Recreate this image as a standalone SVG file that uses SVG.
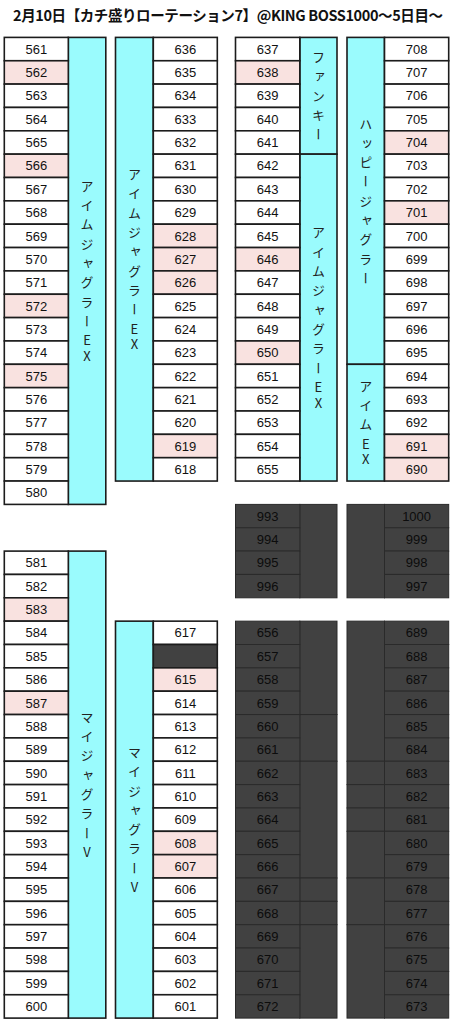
<svg xmlns="http://www.w3.org/2000/svg" width="456" height="1024" viewBox="0 0 456 1024">
<style>
rect{stroke:#1c1c1c;stroke-width:1.6}
.w{fill:#ffffff}
.p{fill:#f9e2e0}
.c{fill:#9afbfd}
.k{fill:#414141}
.d rect{fill:#414141;stroke:#2a2a2a;stroke-width:1}
text{font-family:"Liberation Sans",Arial,sans-serif;font-size:13px;text-anchor:middle;fill:#111}
.d text{fill:#0c0c0c}
.v{font-family:"Noto Sans CJK JP",sans-serif;font-size:13px;writing-mode:vertical-rl;text-orientation:upright;glyph-orientation-vertical:0;fill:#222}
.ttl{font-family:"Noto Sans CJK JP",sans-serif;font-size:14.5px;font-weight:bold;text-anchor:start;fill:#111}
</style>
<text class="ttl" x="13" y="20.5" textLength="430">2月10日【カチ盛りローテーション7】@KING BOSS1000〜5日目〜</text>

<g id="blockA">
<g id="sideA"><rect class="c" x="68.3" y="37.4" width="37.5" height="467"/>
<text class="v" x="87.05"><tspan y="185.85">ア</tspan><tspan y="205.15">イ</tspan><tspan y="224.45">ム</tspan><tspan y="243.75">ジ</tspan><tspan y="263.05">ャ</tspan><tspan y="282.35">グ</tspan><tspan y="301.65">ラ</tspan><tspan y="320.95">ー</tspan><tspan y="340.45">E</tspan><tspan y="355.95">X</tspan></text></g>
<g id="m561"><rect class="w" x="4.3" y="37.4" width="64" height="23.35"/><text x="36.3" y="53.7">561</text></g>
<g id="m562"><rect class="p" x="4.3" y="60.75" width="64" height="23.35"/><text x="36.3" y="77.05">562</text></g>
<g id="m563"><rect class="w" x="4.3" y="84.1" width="64" height="23.35"/><text x="36.3" y="100.4">563</text></g>
<g id="m564"><rect class="w" x="4.3" y="107.45" width="64" height="23.35"/><text x="36.3" y="123.75">564</text></g>
<g id="m565"><rect class="w" x="4.3" y="130.8" width="64" height="23.35"/><text x="36.3" y="147.1">565</text></g>
<g id="m566"><rect class="p" x="4.3" y="154.15" width="64" height="23.35"/><text x="36.3" y="170.45">566</text></g>
<g id="m567"><rect class="w" x="4.3" y="177.5" width="64" height="23.35"/><text x="36.3" y="193.8">567</text></g>
<g id="m568"><rect class="w" x="4.3" y="200.85" width="64" height="23.35"/><text x="36.3" y="217.15">568</text></g>
<g id="m569"><rect class="w" x="4.3" y="224.2" width="64" height="23.35"/><text x="36.3" y="240.5">569</text></g>
<g id="m570"><rect class="w" x="4.3" y="247.55" width="64" height="23.35"/><text x="36.3" y="263.85">570</text></g>
<g id="m571"><rect class="w" x="4.3" y="270.9" width="64" height="23.35"/><text x="36.3" y="287.2">571</text></g>
<g id="m572"><rect class="p" x="4.3" y="294.25" width="64" height="23.35"/><text x="36.3" y="310.55">572</text></g>
<g id="m573"><rect class="w" x="4.3" y="317.6" width="64" height="23.35"/><text x="36.3" y="333.9">573</text></g>
<g id="m574"><rect class="w" x="4.3" y="340.95" width="64" height="23.35"/><text x="36.3" y="357.25">574</text></g>
<g id="m575"><rect class="p" x="4.3" y="364.3" width="64" height="23.35"/><text x="36.3" y="380.6">575</text></g>
<g id="m576"><rect class="w" x="4.3" y="387.65" width="64" height="23.35"/><text x="36.3" y="403.95">576</text></g>
<g id="m577"><rect class="w" x="4.3" y="411" width="64" height="23.35"/><text x="36.3" y="427.3">577</text></g>
<g id="m578"><rect class="w" x="4.3" y="434.35" width="64" height="23.35"/><text x="36.3" y="450.65">578</text></g>
<g id="m579"><rect class="w" x="4.3" y="457.7" width="64" height="23.35"/><text x="36.3" y="474">579</text></g>
<g id="m580"><rect class="w" x="4.3" y="481.05" width="64" height="23.35"/><text x="36.3" y="497.35">580</text></g>
</g>

<g id="blockB">
<g id="sideB"><rect class="c" x="115.5" y="37.4" width="37.8" height="443.65"/>
<text class="v" x="134.4"><tspan y="174.15">ア</tspan><tspan y="193.45">イ</tspan><tspan y="212.75">ム</tspan><tspan y="232.05">ジ</tspan><tspan y="251.35">ャ</tspan><tspan y="270.65">グ</tspan><tspan y="289.95">ラ</tspan><tspan y="309.25">ー</tspan><tspan y="328.75">E</tspan><tspan y="344.25">X</tspan></text></g>
<g id="m636"><rect class="w" x="153.3" y="37.4" width="64" height="23.35"/><text x="185.3" y="53.7">636</text></g>
<g id="m635"><rect class="w" x="153.3" y="60.75" width="64" height="23.35"/><text x="185.3" y="77.05">635</text></g>
<g id="m634"><rect class="w" x="153.3" y="84.1" width="64" height="23.35"/><text x="185.3" y="100.4">634</text></g>
<g id="m633"><rect class="w" x="153.3" y="107.45" width="64" height="23.35"/><text x="185.3" y="123.75">633</text></g>
<g id="m632"><rect class="w" x="153.3" y="130.8" width="64" height="23.35"/><text x="185.3" y="147.1">632</text></g>
<g id="m631"><rect class="w" x="153.3" y="154.15" width="64" height="23.35"/><text x="185.3" y="170.45">631</text></g>
<g id="m630"><rect class="w" x="153.3" y="177.5" width="64" height="23.35"/><text x="185.3" y="193.8">630</text></g>
<g id="m629"><rect class="w" x="153.3" y="200.85" width="64" height="23.35"/><text x="185.3" y="217.15">629</text></g>
<g id="m628"><rect class="p" x="153.3" y="224.2" width="64" height="23.35"/><text x="185.3" y="240.5">628</text></g>
<g id="m627"><rect class="p" x="153.3" y="247.55" width="64" height="23.35"/><text x="185.3" y="263.85">627</text></g>
<g id="m626"><rect class="p" x="153.3" y="270.9" width="64" height="23.35"/><text x="185.3" y="287.2">626</text></g>
<g id="m625"><rect class="w" x="153.3" y="294.25" width="64" height="23.35"/><text x="185.3" y="310.55">625</text></g>
<g id="m624"><rect class="w" x="153.3" y="317.6" width="64" height="23.35"/><text x="185.3" y="333.9">624</text></g>
<g id="m623"><rect class="w" x="153.3" y="340.95" width="64" height="23.35"/><text x="185.3" y="357.25">623</text></g>
<g id="m622"><rect class="w" x="153.3" y="364.3" width="64" height="23.35"/><text x="185.3" y="380.6">622</text></g>
<g id="m621"><rect class="w" x="153.3" y="387.65" width="64" height="23.35"/><text x="185.3" y="403.95">621</text></g>
<g id="m620"><rect class="w" x="153.3" y="411" width="64" height="23.35"/><text x="185.3" y="427.3">620</text></g>
<g id="m619"><rect class="p" x="153.3" y="434.35" width="64" height="23.35"/><text x="185.3" y="450.65">619</text></g>
<g id="m618"><rect class="w" x="153.3" y="457.7" width="64" height="23.35"/><text x="185.3" y="474">618</text></g>
</g>

<g id="blockC">
<g id="sideC1"><rect class="c" x="299.8" y="37.4" width="37.2" height="116.75"/>
<text class="v" x="318.4"><tspan y="57.18">フ</tspan><tspan y="76.48">ァ</tspan><tspan y="95.78">ン</tspan><tspan y="115.08">キ</tspan><tspan y="134.38">ー</tspan></text></g>
<g id="sideC2"><rect class="c" x="299.8" y="154.15" width="37.2" height="326.9"/>
<text class="v" x="318.4"><tspan y="232.55">ア</tspan><tspan y="251.85">イ</tspan><tspan y="271.15">ム</tspan><tspan y="290.45">ジ</tspan><tspan y="309.75">ャ</tspan><tspan y="329.05">グ</tspan><tspan y="348.35">ラ</tspan><tspan y="367.65">ー</tspan><tspan y="387.15">E</tspan><tspan y="402.65">X</tspan></text></g>
<g id="m637"><rect class="w" x="235.5" y="37.4" width="64.3" height="23.35"/><text x="267.65" y="53.7">637</text></g>
<g id="m638"><rect class="p" x="235.5" y="60.75" width="64.3" height="23.35"/><text x="267.65" y="77.05">638</text></g>
<g id="m639"><rect class="w" x="235.5" y="84.1" width="64.3" height="23.35"/><text x="267.65" y="100.4">639</text></g>
<g id="m640"><rect class="w" x="235.5" y="107.45" width="64.3" height="23.35"/><text x="267.65" y="123.75">640</text></g>
<g id="m641"><rect class="w" x="235.5" y="130.8" width="64.3" height="23.35"/><text x="267.65" y="147.1">641</text></g>
<g id="m642"><rect class="w" x="235.5" y="154.15" width="64.3" height="23.35"/><text x="267.65" y="170.45">642</text></g>
<g id="m643"><rect class="w" x="235.5" y="177.5" width="64.3" height="23.35"/><text x="267.65" y="193.8">643</text></g>
<g id="m644"><rect class="w" x="235.5" y="200.85" width="64.3" height="23.35"/><text x="267.65" y="217.15">644</text></g>
<g id="m645"><rect class="w" x="235.5" y="224.2" width="64.3" height="23.35"/><text x="267.65" y="240.5">645</text></g>
<g id="m646"><rect class="p" x="235.5" y="247.55" width="64.3" height="23.35"/><text x="267.65" y="263.85">646</text></g>
<g id="m647"><rect class="w" x="235.5" y="270.9" width="64.3" height="23.35"/><text x="267.65" y="287.2">647</text></g>
<g id="m648"><rect class="w" x="235.5" y="294.25" width="64.3" height="23.35"/><text x="267.65" y="310.55">648</text></g>
<g id="m649"><rect class="w" x="235.5" y="317.6" width="64.3" height="23.35"/><text x="267.65" y="333.9">649</text></g>
<g id="m650"><rect class="p" x="235.5" y="340.95" width="64.3" height="23.35"/><text x="267.65" y="357.25">650</text></g>
<g id="m651"><rect class="w" x="235.5" y="364.3" width="64.3" height="23.35"/><text x="267.65" y="380.6">651</text></g>
<g id="m652"><rect class="w" x="235.5" y="387.65" width="64.3" height="23.35"/><text x="267.65" y="403.95">652</text></g>
<g id="m653"><rect class="w" x="235.5" y="411" width="64.3" height="23.35"/><text x="267.65" y="427.3">653</text></g>
<g id="m654"><rect class="w" x="235.5" y="434.35" width="64.3" height="23.35"/><text x="267.65" y="450.65">654</text></g>
<g id="m655"><rect class="w" x="235.5" y="457.7" width="64.3" height="23.35"/><text x="267.65" y="474">655</text></g>
</g>

<g id="blockD">
<g id="sideD1"><rect class="c" x="347" y="37.4" width="37.5" height="326.9"/>
<text class="v" x="365.75"><tspan y="123.65">ハ</tspan><tspan y="142.95">ッ</tspan><tspan y="162.25">ピ</tspan><tspan y="181.55">ー</tspan><tspan y="200.85">ジ</tspan><tspan y="220.15">ャ</tspan><tspan y="239.45">グ</tspan><tspan y="258.75">ラ</tspan><tspan y="278.05">ー</tspan></text></g>
<g id="sideD2"><rect class="c" x="347" y="364.3" width="37.5" height="116.75"/>
<text class="v" x="365.75"><tspan y="385.88">ア</tspan><tspan y="405.18">イ</tspan><tspan y="424.48">ム</tspan><tspan y="443.98">E</tspan><tspan y="459.48">X</tspan></text></g>
<g id="m708"><rect class="w" x="384.5" y="37.4" width="64.2" height="23.35"/><text x="416.6" y="53.7">708</text></g>
<g id="m707"><rect class="w" x="384.5" y="60.75" width="64.2" height="23.35"/><text x="416.6" y="77.05">707</text></g>
<g id="m706"><rect class="w" x="384.5" y="84.1" width="64.2" height="23.35"/><text x="416.6" y="100.4">706</text></g>
<g id="m705"><rect class="w" x="384.5" y="107.45" width="64.2" height="23.35"/><text x="416.6" y="123.75">705</text></g>
<g id="m704"><rect class="p" x="384.5" y="130.8" width="64.2" height="23.35"/><text x="416.6" y="147.1">704</text></g>
<g id="m703"><rect class="w" x="384.5" y="154.15" width="64.2" height="23.35"/><text x="416.6" y="170.45">703</text></g>
<g id="m702"><rect class="w" x="384.5" y="177.5" width="64.2" height="23.35"/><text x="416.6" y="193.8">702</text></g>
<g id="m701"><rect class="p" x="384.5" y="200.85" width="64.2" height="23.35"/><text x="416.6" y="217.15">701</text></g>
<g id="m700"><rect class="w" x="384.5" y="224.2" width="64.2" height="23.35"/><text x="416.6" y="240.5">700</text></g>
<g id="m699"><rect class="w" x="384.5" y="247.55" width="64.2" height="23.35"/><text x="416.6" y="263.85">699</text></g>
<g id="m698"><rect class="w" x="384.5" y="270.9" width="64.2" height="23.35"/><text x="416.6" y="287.2">698</text></g>
<g id="m697"><rect class="w" x="384.5" y="294.25" width="64.2" height="23.35"/><text x="416.6" y="310.55">697</text></g>
<g id="m696"><rect class="w" x="384.5" y="317.6" width="64.2" height="23.35"/><text x="416.6" y="333.9">696</text></g>
<g id="m695"><rect class="w" x="384.5" y="340.95" width="64.2" height="23.35"/><text x="416.6" y="357.25">695</text></g>
<g id="m694"><rect class="w" x="384.5" y="364.3" width="64.2" height="23.35"/><text x="416.6" y="380.6">694</text></g>
<g id="m693"><rect class="w" x="384.5" y="387.65" width="64.2" height="23.35"/><text x="416.6" y="403.95">693</text></g>
<g id="m692"><rect class="w" x="384.5" y="411" width="64.2" height="23.35"/><text x="416.6" y="427.3">692</text></g>
<g id="m691"><rect class="p" x="384.5" y="434.35" width="64.2" height="23.35"/><text x="416.6" y="450.65">691</text></g>
<g id="m690"><rect class="p" x="384.5" y="457.7" width="64.2" height="23.35"/><text x="416.6" y="474">690</text></g>
</g>

<g id="darkC1" class="d">
<rect x="299.8" y="504.4" width="37.2" height="93.4"/>
<g id="m993"><rect x="235.5" y="504.4" width="64.3" height="23.35"/><text x="267.65" y="520.7">993</text></g>
<g id="m994"><rect x="235.5" y="527.75" width="64.3" height="23.35"/><text x="267.65" y="544.05">994</text></g>
<g id="m995"><rect x="235.5" y="551.1" width="64.3" height="23.35"/><text x="267.65" y="567.4">995</text></g>
<g id="m996"><rect x="235.5" y="574.45" width="64.3" height="23.35"/><text x="267.65" y="590.75">996</text></g>
</g>
<g id="darkD1" class="d">
<rect x="347" y="504.4" width="37.5" height="93.4"/>
<g id="m1000"><rect x="384.5" y="504.4" width="64.2" height="23.35"/><text x="416.6" y="520.7">1000</text></g>
<g id="m999"><rect x="384.5" y="527.75" width="64.2" height="23.35"/><text x="416.6" y="544.05">999</text></g>
<g id="m998"><rect x="384.5" y="551.1" width="64.2" height="23.35"/><text x="416.6" y="567.4">998</text></g>
<g id="m997"><rect x="384.5" y="574.45" width="64.2" height="23.35"/><text x="416.6" y="590.75">997</text></g>
</g>

<g id="blockA2">
<g id="sideA2"><rect class="c" x="68.3" y="551.1" width="37.5" height="467"/>
<text class="v" x="87.05"><tspan y="716.95">マ</tspan><tspan y="736.25">イ</tspan><tspan y="755.55">ジ</tspan><tspan y="774.85">ャ</tspan><tspan y="794.15">グ</tspan><tspan y="813.45">ラ</tspan><tspan y="832.75">ー</tspan><tspan y="852.25">V</tspan></text></g>
<g id="m581"><rect class="w" x="4.3" y="551.1" width="64" height="23.35"/><text x="36.3" y="567.4">581</text></g>
<g id="m582"><rect class="w" x="4.3" y="574.45" width="64" height="23.35"/><text x="36.3" y="590.75">582</text></g>
<g id="m583"><rect class="p" x="4.3" y="597.8" width="64" height="23.35"/><text x="36.3" y="614.1">583</text></g>
<g id="m584"><rect class="w" x="4.3" y="621.15" width="64" height="23.35"/><text x="36.3" y="637.45">584</text></g>
<g id="m585"><rect class="w" x="4.3" y="644.5" width="64" height="23.35"/><text x="36.3" y="660.8">585</text></g>
<g id="m586"><rect class="w" x="4.3" y="667.85" width="64" height="23.35"/><text x="36.3" y="684.15">586</text></g>
<g id="m587"><rect class="p" x="4.3" y="691.2" width="64" height="23.35"/><text x="36.3" y="707.5">587</text></g>
<g id="m588"><rect class="w" x="4.3" y="714.55" width="64" height="23.35"/><text x="36.3" y="730.85">588</text></g>
<g id="m589"><rect class="w" x="4.3" y="737.9" width="64" height="23.35"/><text x="36.3" y="754.2">589</text></g>
<g id="m590"><rect class="w" x="4.3" y="761.25" width="64" height="23.35"/><text x="36.3" y="777.55">590</text></g>
<g id="m591"><rect class="w" x="4.3" y="784.6" width="64" height="23.35"/><text x="36.3" y="800.9">591</text></g>
<g id="m592"><rect class="w" x="4.3" y="807.95" width="64" height="23.35"/><text x="36.3" y="824.25">592</text></g>
<g id="m593"><rect class="w" x="4.3" y="831.3" width="64" height="23.35"/><text x="36.3" y="847.6">593</text></g>
<g id="m594"><rect class="w" x="4.3" y="854.65" width="64" height="23.35"/><text x="36.3" y="870.95">594</text></g>
<g id="m595"><rect class="w" x="4.3" y="878" width="64" height="23.35"/><text x="36.3" y="894.3">595</text></g>
<g id="m596"><rect class="w" x="4.3" y="901.35" width="64" height="23.35"/><text x="36.3" y="917.65">596</text></g>
<g id="m597"><rect class="w" x="4.3" y="924.7" width="64" height="23.35"/><text x="36.3" y="941">597</text></g>
<g id="m598"><rect class="w" x="4.3" y="948.05" width="64" height="23.35"/><text x="36.3" y="964.35">598</text></g>
<g id="m599"><rect class="w" x="4.3" y="971.4" width="64" height="23.35"/><text x="36.3" y="987.7">599</text></g>
<g id="m600"><rect class="w" x="4.3" y="994.75" width="64" height="23.35"/><text x="36.3" y="1011.05">600</text></g>
</g>

<g id="blockB2">
<g id="sideB2"><rect class="c" x="115.5" y="621.15" width="37.8" height="396.95"/>
<text class="v" x="134.4"><tspan y="751.98">マ</tspan><tspan y="771.28">イ</tspan><tspan y="790.58">ジ</tspan><tspan y="809.88">ャ</tspan><tspan y="829.18">グ</tspan><tspan y="848.48">ラ</tspan><tspan y="867.78">ー</tspan><tspan y="887.28">V</tspan></text></g>
<g id="m617"><rect class="w" x="153.3" y="621.15" width="64" height="23.35"/><text x="185.3" y="637.45">617</text></g>
<g id="m616"><rect class="k" x="153.3" y="644.5" width="64" height="23.35"/></g>
<g id="m615"><rect class="p" x="153.3" y="667.85" width="64" height="23.35"/><text x="185.3" y="684.15">615</text></g>
<g id="m614"><rect class="w" x="153.3" y="691.2" width="64" height="23.35"/><text x="185.3" y="707.5">614</text></g>
<g id="m613"><rect class="w" x="153.3" y="714.55" width="64" height="23.35"/><text x="185.3" y="730.85">613</text></g>
<g id="m612"><rect class="w" x="153.3" y="737.9" width="64" height="23.35"/><text x="185.3" y="754.2">612</text></g>
<g id="m611"><rect class="w" x="153.3" y="761.25" width="64" height="23.35"/><text x="185.3" y="777.55">611</text></g>
<g id="m610"><rect class="w" x="153.3" y="784.6" width="64" height="23.35"/><text x="185.3" y="800.9">610</text></g>
<g id="m609"><rect class="w" x="153.3" y="807.95" width="64" height="23.35"/><text x="185.3" y="824.25">609</text></g>
<g id="m608"><rect class="p" x="153.3" y="831.3" width="64" height="23.35"/><text x="185.3" y="847.6">608</text></g>
<g id="m607"><rect class="p" x="153.3" y="854.65" width="64" height="23.35"/><text x="185.3" y="870.95">607</text></g>
<g id="m606"><rect class="w" x="153.3" y="878" width="64" height="23.35"/><text x="185.3" y="894.3">606</text></g>
<g id="m605"><rect class="w" x="153.3" y="901.35" width="64" height="23.35"/><text x="185.3" y="917.65">605</text></g>
<g id="m604"><rect class="w" x="153.3" y="924.7" width="64" height="23.35"/><text x="185.3" y="941">604</text></g>
<g id="m603"><rect class="w" x="153.3" y="948.05" width="64" height="23.35"/><text x="185.3" y="964.35">603</text></g>
<g id="m602"><rect class="w" x="153.3" y="971.4" width="64" height="23.35"/><text x="185.3" y="987.7">602</text></g>
<g id="m601"><rect class="w" x="153.3" y="994.75" width="64" height="23.35"/><text x="185.3" y="1011.05">601</text></g>
</g>

<g id="darkC2" class="d">
<rect x="299.8" y="621.15" width="37.2" height="93.4"/>
<rect x="299.8" y="714.55" width="37.2" height="46.7"/>
<rect x="299.8" y="761.25" width="37.2" height="116.75"/>
<rect x="299.8" y="878" width="37.2" height="23.35"/>
<rect x="299.8" y="901.35" width="37.2" height="23.35"/>
<rect x="299.8" y="924.7" width="37.2" height="93.4"/>
<g id="m656"><rect x="235.5" y="621.15" width="64.3" height="23.35"/><text x="267.65" y="637.45">656</text></g>
<g id="m657"><rect x="235.5" y="644.5" width="64.3" height="23.35"/><text x="267.65" y="660.8">657</text></g>
<g id="m658"><rect x="235.5" y="667.85" width="64.3" height="23.35"/><text x="267.65" y="684.15">658</text></g>
<g id="m659"><rect x="235.5" y="691.2" width="64.3" height="23.35"/><text x="267.65" y="707.5">659</text></g>
<g id="m660"><rect x="235.5" y="714.55" width="64.3" height="23.35"/><text x="267.65" y="730.85">660</text></g>
<g id="m661"><rect x="235.5" y="737.9" width="64.3" height="23.35"/><text x="267.65" y="754.2">661</text></g>
<g id="m662"><rect x="235.5" y="761.25" width="64.3" height="23.35"/><text x="267.65" y="777.55">662</text></g>
<g id="m663"><rect x="235.5" y="784.6" width="64.3" height="23.35"/><text x="267.65" y="800.9">663</text></g>
<g id="m664"><rect x="235.5" y="807.95" width="64.3" height="23.35"/><text x="267.65" y="824.25">664</text></g>
<g id="m665"><rect x="235.5" y="831.3" width="64.3" height="23.35"/><text x="267.65" y="847.6">665</text></g>
<g id="m666"><rect x="235.5" y="854.65" width="64.3" height="23.35"/><text x="267.65" y="870.95">666</text></g>
<g id="m667"><rect x="235.5" y="878" width="64.3" height="23.35"/><text x="267.65" y="894.3">667</text></g>
<g id="m668"><rect x="235.5" y="901.35" width="64.3" height="23.35"/><text x="267.65" y="917.65">668</text></g>
<g id="m669"><rect x="235.5" y="924.7" width="64.3" height="23.35"/><text x="267.65" y="941">669</text></g>
<g id="m670"><rect x="235.5" y="948.05" width="64.3" height="23.35"/><text x="267.65" y="964.35">670</text></g>
<g id="m671"><rect x="235.5" y="971.4" width="64.3" height="23.35"/><text x="267.65" y="987.7">671</text></g>
<g id="m672"><rect x="235.5" y="994.75" width="64.3" height="23.35"/><text x="267.65" y="1011.05">672</text></g>
</g>

<g id="darkD2" class="d">
<rect x="347" y="621.15" width="37.5" height="140.1"/>
<rect x="347" y="761.25" width="37.5" height="23.35"/>
<rect x="347" y="784.6" width="37.5" height="23.35"/>
<rect x="347" y="807.95" width="37.5" height="23.35"/>
<rect x="347" y="831.3" width="37.5" height="46.7"/>
<rect x="347" y="878" width="37.5" height="46.7"/>
<rect x="347" y="924.7" width="37.5" height="93.4"/>
<g id="m689"><rect x="384.5" y="621.15" width="64.2" height="23.35"/><text x="416.6" y="637.45">689</text></g>
<g id="m688"><rect x="384.5" y="644.5" width="64.2" height="23.35"/><text x="416.6" y="660.8">688</text></g>
<g id="m687"><rect x="384.5" y="667.85" width="64.2" height="23.35"/><text x="416.6" y="684.15">687</text></g>
<g id="m686"><rect x="384.5" y="691.2" width="64.2" height="23.35"/><text x="416.6" y="707.5">686</text></g>
<g id="m685"><rect x="384.5" y="714.55" width="64.2" height="23.35"/><text x="416.6" y="730.85">685</text></g>
<g id="m684"><rect x="384.5" y="737.9" width="64.2" height="23.35"/><text x="416.6" y="754.2">684</text></g>
<g id="m683"><rect x="384.5" y="761.25" width="64.2" height="23.35"/><text x="416.6" y="777.55">683</text></g>
<g id="m682"><rect x="384.5" y="784.6" width="64.2" height="23.35"/><text x="416.6" y="800.9">682</text></g>
<g id="m681"><rect x="384.5" y="807.95" width="64.2" height="23.35"/><text x="416.6" y="824.25">681</text></g>
<g id="m680"><rect x="384.5" y="831.3" width="64.2" height="23.35"/><text x="416.6" y="847.6">680</text></g>
<g id="m679"><rect x="384.5" y="854.65" width="64.2" height="23.35"/><text x="416.6" y="870.95">679</text></g>
<g id="m678"><rect x="384.5" y="878" width="64.2" height="23.35"/><text x="416.6" y="894.3">678</text></g>
<g id="m677"><rect x="384.5" y="901.35" width="64.2" height="23.35"/><text x="416.6" y="917.65">677</text></g>
<g id="m676"><rect x="384.5" y="924.7" width="64.2" height="23.35"/><text x="416.6" y="941">676</text></g>
<g id="m675"><rect x="384.5" y="948.05" width="64.2" height="23.35"/><text x="416.6" y="964.35">675</text></g>
<g id="m674"><rect x="384.5" y="971.4" width="64.2" height="23.35"/><text x="416.6" y="987.7">674</text></g>
<g id="m673"><rect x="384.5" y="994.75" width="64.2" height="23.35"/><text x="416.6" y="1011.05">673</text></g>
</g>
</svg>
